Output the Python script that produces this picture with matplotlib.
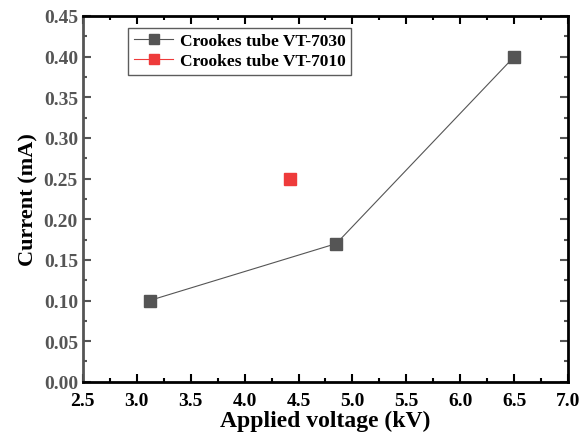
import matplotlib.pyplot as plt
from matplotlib.ticker import MultipleLocator

plt.rcParams['font.family'] = ['Liberation Serif', 'DejaVu Serif']
plt.rcParams['font.weight'] = 'bold'

# data
v_7030 = [3.12, 4.85, 6.5]
i_7030 = [0.10, 0.17, 0.40]
v_7010 = [4.42]
i_7010 = [0.25]

fig = plt.figure(figsize=(5.87, 4.35), dpi=100)
ax = fig.add_axes([0.141, 0.12, 0.827, 0.841])

ax.plot(v_7030, i_7030, '-s', color='#555555', lw=0.8, ms=8,
        label='Crookes tube VT-7030')
ax.plot(v_7010, i_7010, '-s', color='#ee3b3b', lw=0.8, ms=8,
        label='Crookes tube VT-7010')

ax.set_xlim(2.5, 7.0)
ax.set_ylim(0, 0.45)
ax.xaxis.set_major_locator(MultipleLocator(0.5))
ax.xaxis.set_minor_locator(MultipleLocator(0.25))
ax.yaxis.set_major_locator(MultipleLocator(0.05))
ax.yaxis.set_minor_locator(MultipleLocator(0.025))
ax.xaxis.set_major_formatter(plt.FormatStrFormatter('%.1f'))
ax.yaxis.set_major_formatter(plt.FormatStrFormatter('%.2f'))

for s in ax.spines.values():
    s.set_linewidth(2)
ax.spines['left'].set_color('#555555')

ax.tick_params(which='both', direction='in', top=True, right=True, width=1.5)
ax.tick_params(which='major', length=6, labelsize=14)
ax.tick_params(which='minor', length=3)
ax.tick_params(axis='x', pad=7)
ax.tick_params(axis='y', which='both', color='#555555', labelcolor='#555555')
# right side ticks stay black
for t in ax.yaxis.get_ticklines(minor=False)[1::2] + ax.yaxis.get_ticklines(minor=True)[1::2]:
    t.set_color('black')

ax.set_xlabel('Applied voltage (kV)', fontsize=17, fontweight='bold', labelpad=1)
ax.set_ylabel('Current (mA)', fontsize=16, fontweight='bold', labelpad=4)

leg = ax.legend(loc='upper left', bbox_to_anchor=(0.076, 0.992), fontsize=12.5,
                frameon=True, fancybox=False, edgecolor='#333333',
                handlelength=2.3, handletextpad=0.4, markerscale=0.95,
                borderpad=0.3, labelspacing=0.25)
leg.get_frame().set_linewidth(1)

fig.savefig('out.png', dpi=100)
